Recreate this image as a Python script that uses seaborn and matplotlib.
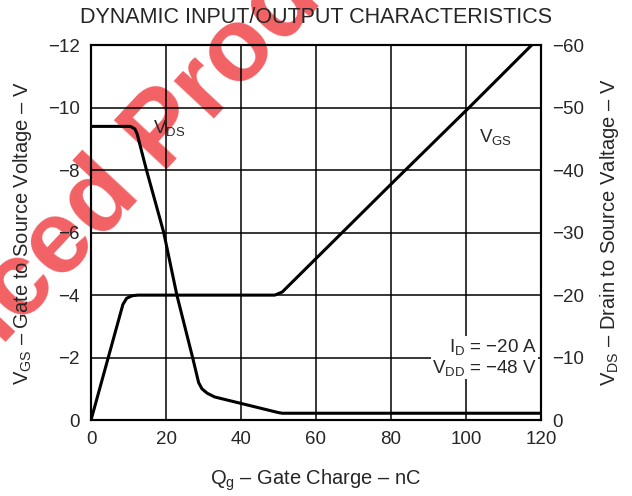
import numpy as np
import pandas as pd
import matplotlib
matplotlib.use("Agg")
import matplotlib.pyplot as plt
import seaborn as sns

# data
qg_vgs = [0, 8.5, 9.5, 11, 12.5, 49, 51, 80, 100.8, 117.5]
vgs = [0, -3.7, -3.9, -3.98, -4.0, -4.0, -4.1, -7.55, -10.0, -12.0]

qg_vds = [0, 10.5, 11.7, 12.3, 14.8, 19.4, 22.9, 27.1, 28.7, 29.6, 31, 33, 50, 51, 120]
vds = [-47, -47, -46.6, -45.8, -40, -30, -20, -10, -6, -5, -4.3, -3.7, -1.2, -1.1, -1.1]

x_ticks = [0, 20, 40, 60, 80, 100, 120]
left_ticks = [-12, -10, -8, -6, -4, -2, 0]
right_ticks = [-60, -50, -40, -30, -20, -10, 0]

sns.set_style("white")
plt.rcParams['font.family'] = ['Liberation Sans', 'DejaVu Sans']
plt.rcParams['mathtext.fontset'] = 'custom'
plt.rcParams['mathtext.rm'] = 'Liberation Sans'
plt.rcParams['mathtext.it'] = 'Liberation Sans:italic'
plt.rcParams['mathtext.bf'] = 'Liberation Sans:bold'

fig = plt.figure(figsize=(6.32, 4.96), dpi=100)
ax = fig.add_axes([0.144, 0.153, 0.712, 0.756])
ax.patch.set_facecolor('none')

df_gs = pd.DataFrame({'qg': qg_vgs, 'v': vgs})
df_ds = pd.DataFrame({'qg': qg_vds, 'v': vds})

sns.lineplot(data=df_gs, x='qg', y='v', ax=ax, color='black', linewidth=2.2,
             sort=False, estimator=None)
ax.set_xlim(0, 120)
ax.set_ylim(0, -12)
ax.set_xticks(x_ticks)
ax.set_yticks(left_ticks)
ax.set_yticklabels([str(t).replace('-', '\u2212') for t in left_ticks])
ax.grid(True, color='black', linewidth=1.1)
ax.tick_params(length=0, labelsize=13.5, pad=8)

ax2 = ax.twinx()
sns.lineplot(data=df_ds, x='qg', y='v', ax=ax2, color='black', linewidth=2.2,
             sort=False, estimator=None)
ax2.set_ylim(0, -60)
ax2.set_yticks(right_ticks)
ax2.set_yticklabels([str(t).replace('-', '\u2212') for t in right_ticks])
ax2.tick_params(length=0, labelsize=13.5, pad=8)
ax2.set_xlim(0, 120)

for a in (ax, ax2):
    for s in a.spines.values():
        s.set_linewidth(1.5)
        s.set_color('black')

ax.set_xlabel('Q$_\\mathrm{g}$ \u2013 Gate Charge \u2013 nC', fontsize=14.5)
ax.xaxis.set_label_coords(0.5, -0.16)
ax.xaxis.label.set_va('center')
ax.set_ylabel('V$_\\mathrm{GS}$ \u2013 Gate to Source Voltage \u2013 V', fontsize=14.5, va='center')
ax.yaxis.set_label_coords(-0.153, 0.5)
ax2.set_ylabel('V$_\\mathrm{DS}$ \u2013 Drain to Source Valtage \u2013 V', fontsize=14.5,
               va='center', rotation=90)
ax2.yaxis.set_label_coords(1.153, 0.5)

ax.set_title('DYNAMIC INPUT/OUTPUT CHARACTERISTICS', fontsize=15.5, pad=16)

ax.text(20.8, -9.36, 'V$_\\mathrm{DS}$', fontsize=13.5, ha='center', va='center')
ax.text(108, -9.07, 'V$_\\mathrm{GS}$', fontsize=13.5, ha='center', va='center')
ax.text(118.9, -2.0, 'I$_\\mathrm{D}$ = \u221220 A\nV$_\\mathrm{DD}$ = \u221248 V', fontsize=13.5,
        ha='right', va='center', multialignment='right', linespacing=1.05,
        bbox=dict(facecolor='white', edgecolor='none', pad=1))

# watermark behind the chart
fig.text(0.185, 0.63, 'Advanced Products', fontsize=75, fontweight='bold',
         color='#ef3e42', alpha=0.82, rotation=47, ha='center', va='center',
         rotation_mode='anchor', zorder=-1)

plt.savefig('out.png', dpi=100, facecolor='white')
